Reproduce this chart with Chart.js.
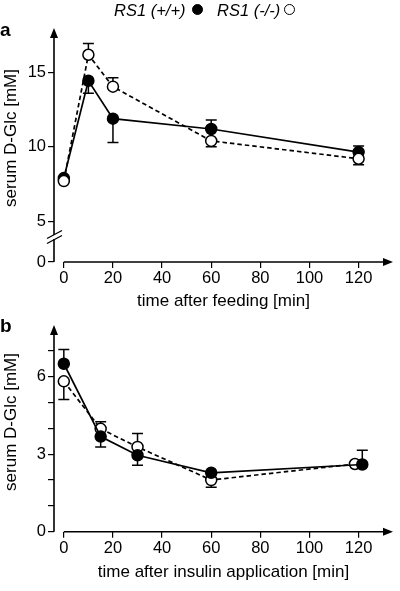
<!DOCTYPE html>
<html>
<head>
<meta charset="utf-8">
<script src="https://cdn.jsdelivr.net/npm/chart.js@4.4.0/dist/chart.umd.min.js"></script>
<style>
  body { margin: 0; background: #fff; }
  #wrap { position: relative; width: 400px; height: 591px; font-family: "Liberation Sans", Arial, sans-serif; color: #000; }
  canvas { position: absolute; left: 0; }
  .txt { position: absolute; white-space: nowrap; line-height: 20px; }
  .leg { font-style: italic; font-size: 16.5px; top: 0; }
  .dot { position: absolute; width: 11px; height: 11px; border-radius: 50%; box-sizing: border-box; border: 1.5px solid #000; top: 4px; }
  .panel { font-weight: bold; font-size: 19px; left: 0; }
</style>
</head>
<body>
<div id="wrap">
  <canvas id="chartA" width="400" height="310" style="top:0"></canvas>
  <canvas id="chartB" width="400" height="281" style="top:310px"></canvas>
  <div class="txt leg" style="left:114px">RS1 (+/+)</div>
  <span class="dot" style="left:192px;background:#000"></span>
  <div class="txt leg" style="left:217px">RS1 (-/-)</div>
  <span class="dot" style="left:284px;background:#fff"></span>
  <div class="txt panel" style="top:20px">a</div>
  <div class="txt panel" style="top:316px">b</div>
</div>
<script>
// panel a : glycemie apres repas
const timeFeed = [0, 10, 20, 60, 120]
const wtFeed = [7.9, 14.45, 11.9, 11.2, 9.65]
const koFeed = [7.7, 16.2, 14.05, 10.4, 9.2]
// bout de la barre d'erreur (un seul cote est dessine), null = pas de barre
const wtFeedErr = [null, 13.6, 10.3, 11.8, 10.05]
const koFeedErr = [null, 16.95, 14.65, 10.0, 8.8]
const feedTicksX = [0, 20, 40, 60, 80, 100, 120]
const feedTicksY = [0, 5, 10, 15]
// axe coupe : le "0" est dessine a cette valeur
const feedAxisBreak = 2.25

// panel b : glycemie apres insuline
const timeInsWt = [0, 15, 30, 60, 121.5]
const timeInsKo = [0, 15, 30, 60, 118.5]
const wtIns = [6.5, 3.68, 2.96, 2.28, 2.6]
const koIns = [5.82, 3.98, 3.28, 2.0, 2.62]
const wtInsErr = [7.05, 3.28, 2.57, null, 3.15]
const koInsErr = [5.12, 4.26, 3.8, 1.72, null]
const insTicksX = [0, 20, 40, 60, 80, 100, 120]
const insTicksY = [0, 1, 2, 3, 4, 5, 6, 7]
const insLabelsY = ["0", "", "", "3", "", "", "6", ""]

const FONT = '"Liberation Sans", Arial, sans-serif'
Chart.defaults.font.family = FONT
Chart.defaults.font.size = 16.5
Chart.defaults.color = "#000"

const toXY = (xs, ys) => xs.map((x, i) => ({ x: x, y: ys[i] }))

function arrowHead(ctx, x, y, dir) {
  ctx.beginPath()
  if (dir === "up") {
    ctx.moveTo(x, y)
    ctx.lineTo(x - 4, y + 10)
    ctx.lineTo(x + 4, y + 10)
  } else {
    ctx.moveTo(x, y)
    ctx.lineTo(x - 10, y - 4)
    ctx.lineTo(x - 10, y + 4)
  }
  ctx.closePath()
  ctx.fill()
}

/* Axes avec fleches, coupure de l'axe, titre y et barres d'erreur */
const axesPlugin = {
  id: "axesFleches",
  beforeDatasetsDraw(chart, args, opts) {
    const { ctx, chartArea: a, scales } = chart
    const x = scales.x
    const y = scales.y
    ctx.save()
    ctx.strokeStyle = "#000"
    ctx.fillStyle = "#000"
    ctx.lineWidth = 1.6

    // axe y
    ctx.beginPath()
    ctx.moveTo(a.left, a.bottom)
    ctx.lineTo(a.left, a.top + 6)
    ctx.stroke()
    arrowHead(ctx, a.left, a.top, "up")

    // axe x, commence a t = 0
    const x0 = x.getPixelForValue(0)
    ctx.beginPath()
    ctx.moveTo(x0, a.bottom)
    ctx.lineTo(a.right - 6, a.bottom)
    ctx.stroke()
    arrowHead(ctx, a.right, a.bottom, "right")

    // coupure
    if (opts.breakY != null) {
      const by = opts.breakY
      ctx.lineWidth = 1.3
      ctx.clearRect(a.left - 2, by - 2, 4, 4)
      for (const d of [-2.5, 2.5]) {
        ctx.beginPath()
        ctx.moveTo(a.left - 7, by + d + 4)
        ctx.lineTo(a.left + 8, by + d - 4)
        ctx.stroke()
      }
    }

    // titre de l'axe y
    ctx.save()
    ctx.translate(11, opts.titleY)
    ctx.rotate(-Math.PI / 2)
    ctx.font = "17px " + FONT
    ctx.textAlign = "center"
    ctx.textBaseline = "middle"
    ctx.fillText("serum D-Glc [mM]", 0, 0)
    ctx.restore()

    // barres d'erreur
    ctx.lineWidth = 1.5
    chart.data.datasets.forEach((ds, i) => {
      const meta = chart.getDatasetMeta(i)
      ds.errEnd.forEach((e, j) => {
        if (e == null) return
        const p = meta.data[j]
        const ye = y.getPixelForValue(e)
        ctx.beginPath()
        ctx.moveTo(p.x, p.y)
        ctx.lineTo(p.x, ye)
        ctx.moveTo(p.x - 5.5, ye)
        ctx.lineTo(p.x + 5.5, ye)
        ctx.stroke()
      })
    })
    ctx.restore()
  },
}

function serie(data, err, filled, order) {
  return {
    data: data,
    errEnd: err,
    order: order,
    borderColor: "#000",
    borderWidth: 1.7,
    borderDash: filled ? [] : [4.5, 3],
    pointRadius: 5.5,
    pointBorderWidth: 1.5,
    pointBorderColor: "#000",
    pointBackgroundColor: filled ? "#000" : "#fff",
    tension: 0,
  }
}

function scaleX(min, max, ticks, title, titlePad, height) {
  return {
    type: "linear",
    min: min,
    max: max,
    afterBuildTicks: (s) => {
      s.ticks = ticks.map((v) => ({ value: v }))
    },
    afterFit: (s) => {
      s.height = height
    },
    border: { display: false },
    grid: { drawOnChartArea: false, drawTicks: true, tickLength: 6, color: "#000", lineWidth: 1.2 },
    ticks: { padding: 1, maxRotation: 0, autoSkip: false },
    title: { display: true, text: title, font: { size: 17 }, padding: { top: 0, bottom: titlePad } },
  }
}

function scaleY(min, max, values, labels) {
  return {
    min: min,
    max: max,
    afterBuildTicks: (s) => {
      s.ticks = values.map((v) => ({ value: v }))
    },
    afterFit: (s) => {
      s.width = 54
    },
    border: { display: false },
    grid: { drawOnChartArea: false, drawTicks: true, tickLength: 6, color: "#000", lineWidth: 1.2 },
    ticks: { padding: 2, autoSkip: false, callback: (v, i) => labels[i] },
  }
}

const common = {
  responsive: false,
  animation: false,
  plugins: { legend: { display: false }, tooltip: { enabled: false } },
}

new Chart(document.querySelector("#chartA"), {
  type: "line",
  data: {
    datasets: [
      serie(toXY(timeFeed, koFeed), koFeedErr, false, 0),
      serie(toXY(timeFeed, wtFeed), wtFeedErr, true, 1),
    ],
  },
  options: {
    ...common,
    layout: { padding: { top: 28, right: 1, left: 0, bottom: 0 } },
    scales: {
      x: scaleX(-4, 134, feedTicksX, "time after feeding [min]", -1.5, 48),
      y: scaleY(feedAxisBreak, 18, feedTicksY.map((v) => Math.max(v, feedAxisBreak)), feedTicksY.map(String)),
    },
    plugins: { ...common.plugins, axesFleches: { breakY: 237, titleY: 138 } },
  },
  plugins: [axesPlugin],
})

new Chart(document.querySelector("#chartB"), {
  type: "line",
  data: {
    datasets: [
      serie(toXY(timeInsWt, wtIns), wtInsErr, true, 0),
      serie(toXY(timeInsKo, koIns), koInsErr, false, 1),
    ],
  },
  options: {
    ...common,
    layout: { padding: { top: 15, right: 1, left: 0, bottom: 0 } },
    scales: {
      x: scaleX(-4, 134, insTicksX, "time after insulin application [min]", 8, 59.3),
      y: scaleY(0, 8, insTicksY, insLabelsY),
    },
    plugins: { ...common.plugins, axesFleches: { breakY: null, titleY: 112 } },
  },
  plugins: [axesPlugin],
})
</script>
</body>
</html>
